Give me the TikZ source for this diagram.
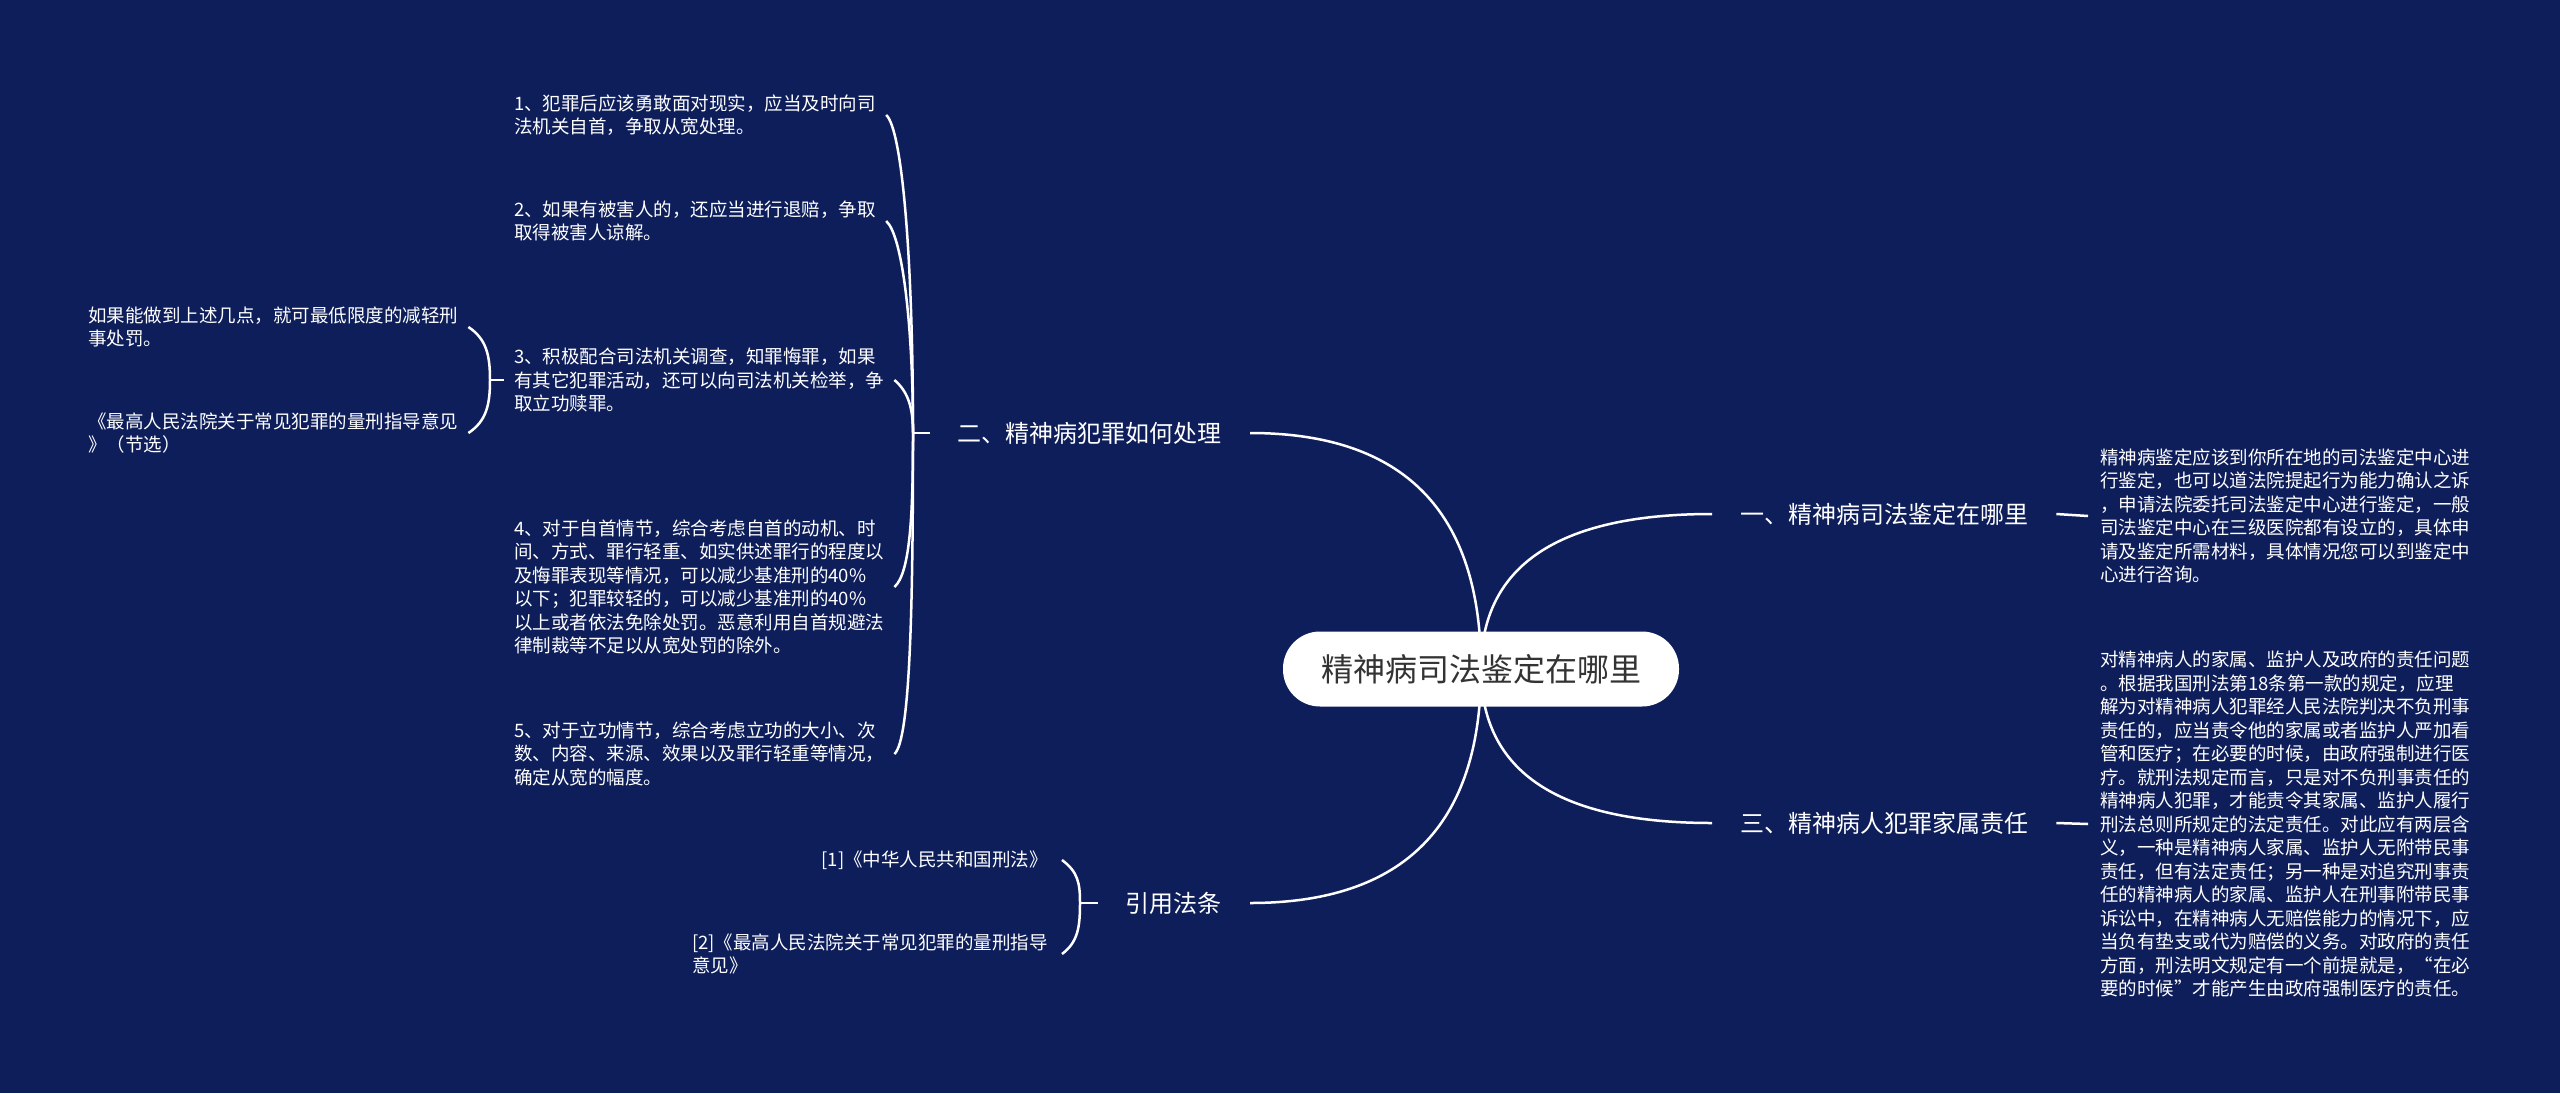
\documentclass[tikz,border=0pt]{standalone}
\usepackage{fontspec}
\setmainfont{Noto Sans CJK SC}
\usetikzlibrary{calc}
\definecolor{navy}{HTML}{0E1E5B}
\definecolor{ink}{HTML}{333333}
\pgfdeclarelayer{back}
\pgfdeclarelayer{edges}
\pgfsetlayers{back,edges,main}
\begin{document}
\begin{tikzpicture}[x=1pt, y=-1pt,
  link/.style={white, line width=2.5pt},
  rootlink/.style={to path={.. controls ($(\tikztostart)!2/3!(\tikztostart|-\tikztotarget)$) and ($(\tikztotarget)!2/3!(\tikztostart|-\tikztotarget)$) .. (\tikztotarget)}},
  rootnode/.style={fill=white, text=ink, rounded corners=37pt, minimum height=75pt, inner xsep=38pt, font=\fontsize{32}{38}\selectfont},
  branch/.style={text=white, inner xsep=28pt, inner ysep=4pt, font=\fontsize{24}{30}\selectfont},
  leaf/.style={text=white, align=left, inner xsep=10pt, inner ysep=2pt, font=\fontsize{18.5}{23.5}\selectfont}]
\useasboundingbox (0,0) rectangle (2560,1093);
% centre
\node[rootnode] (root) at (1481,669) {精神病司法鉴定在哪里};
% branches
\node[branch, anchor=west] (b1) at (1712,514) {一、精神病司法鉴定在哪里};
\node[branch, anchor=east] (b2) at (1250,433) {二、精神病犯罪如何处理};
\node[branch, anchor=west] (b3) at (1712,823) {三、精神病人犯罪家属责任};
\node[branch, anchor=east] (b4) at (1250,903) {引用法条};
% right texts
\node[leaf, inner xsep=12pt, anchor=west] (t1) at (2088,516) {精神病鉴定应该到你所在地的司法鉴定中心进\\行鉴定，也可以道法院提起行为能力确认之诉\\，申请法院委托司法鉴定中心进行鉴定，一般\\司法鉴定中心在三级医院都有设立的，具体申\\请及鉴定所需材料，具体情况您可以到鉴定中\\心进行咨询。};
\node[leaf, inner xsep=12pt, anchor=west] (t3) at (2088,824) {对精神病人的家属、监护人及政府的责任问题\\。根据我国刑法第18条第一款的规定，应理\\解为对精神病人犯罪经人民法院判决不负刑事\\责任的，应当责令他的家属或者监护人严加看\\管和医疗；在必要的时候，由政府强制进行医\\疗。就刑法规定而言，只是对不负刑事责任的\\精神病人犯罪，才能责令其家属、监护人履行\\刑法总则所规定的法定责任。对此应有两层含\\义，一种是精神病人家属、监护人无附带民事\\责任，但有法定责任；另一种是对追究刑事责\\任的精神病人的家属、监护人在刑事附带民事\\诉讼中，在精神病人无赔偿能力的情况下，应\\当负有垫支或代为赔偿的义务。对政府的责任\\方面，刑法明文规定有一个前提就是，“在必\\要的时候”才能产生由政府强制医疗的责任。};
% left texts
\node[leaf, anchor=west] (c1) at (504,115) {1、犯罪后应该勇敢面对现实，应当及时向司\\法机关自首，争取从宽处理。};
\node[leaf, anchor=west] (c2) at (504,221) {2、如果有被害人的，还应当进行退赔，争取\\取得被害人谅解。};
\node[leaf, anchor=west] (c3) at (504,380) {3、积极配合司法机关调查，知罪悔罪，如果\\有其它犯罪活动，还可以向司法机关检举，争\\取立功赎罪。};
\node[leaf, anchor=west] (c4) at (504,587) {4、对于自首情节，综合考虑自首的动机、时\\间、方式、罪行轻重、如实供述罪行的程度以\\及悔罪表现等情况，可以减少基准刑的40\%\\以下；犯罪较轻的，可以减少基准刑的40\%\\以上或者依法免除处罚。恶意利用自首规避法\\律制裁等不足以从宽处罚的除外。};
\node[leaf, anchor=west] (c5) at (504,754) {5、对于立功情节，综合考虑立功的大小、次\\数、内容、来源、效果以及罪行轻重等情况，\\确定从宽的幅度。};
\node[leaf, anchor=west] (g1) at (78,327) {如果能做到上述几点，就可最低限度的减轻刑\\事处罚。};
\node[leaf, anchor=west] (g2) at (78,433) {《最高人民法院关于常见犯罪的量刑指导意见\\》（节选）};
\node[leaf, inner xsep=14pt, anchor=east] (r1) at (1062,860) {[1]《中华人民共和国刑法》};
\node[leaf, inner xsep=14pt, anchor=east] (r2) at (1062,954) {[2]《最高人民法院关于常见犯罪的量刑指导\\意见》};
% brace joints
\coordinate (J2) at (913,433);
\coordinate (J3) at (490,380);
\coordinate (J4) at (1080,903);
\begin{pgfonlayer}{edges}
\draw[link] (root.center) to[rootlink] (b1.west);
\draw[link] (root.center) to[rootlink] (b2.east);
\draw[link] (root.center) to[rootlink] (b3.west);
\draw[link] (root.center) to[rootlink] (b4.east);
\draw[link] (b1.east) -- (t1.west);
\draw[link] (b3.east) -- (t3.west);
\draw[link] (b2.west) -- (J2);
\draw[link] (J2) .. controls +(0,-175) and +(16,14) .. (c1.east);
\draw[link] (J2) .. controls +(0,-110) and +(16,14) .. (c2.east);
\draw[link] (J2) .. controls +(0,-25) and +(14,12) .. (c3.east);
\draw[link] (J2) .. controls +(0,80) and +(16,-14) .. (c4.east);
\draw[link] (J2) .. controls +(0,170) and +(16,-14) .. (c5.east);
\draw[link] (c3.west) -- (J3);
\draw[link] (J3) .. controls +(0,-25) and +(18,12) .. (g1.east);
\draw[link] (J3) .. controls +(0,25) and +(18,-12) .. (g2.east);
\draw[link] (b4.west) -- (J4);
\draw[link] (J4) .. controls +(0,-20) and +(16,12) .. (r1.east);
\draw[link] (J4) .. controls +(0,24) and +(16,-12) .. (r2.east);
\end{pgfonlayer}
\begin{pgfonlayer}{back}
\fill[navy] (0,0) rectangle (2560,1093);
\end{pgfonlayer}
\end{tikzpicture}
\end{document}
